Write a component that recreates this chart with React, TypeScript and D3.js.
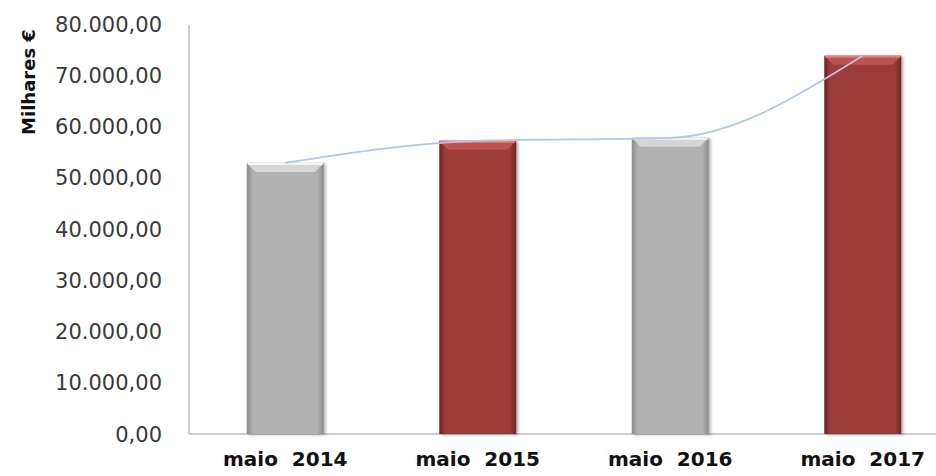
import * as d3 from "d3"

const categories = ["maio  2014", "maio  2015", "maio  2016", "maio  2017"]
const values = [52900, 57200, 57800, 73800]
const barColors = ["gray", "red", "gray", "red"]
const yTicks = [0, 10000, 20000, 30000, 40000, 50000, 60000, 70000, 80000]

const palette: Record<string, { base: string; edge: string; top: string; topEdge: string }> = {
  gray: { base: "#b1b1b1", edge: "#8a8a8a", top: "#d6d6d6", topEdge: "#f4f4f4" },
  red: { base: "#9c3a38", edge: "#6f2422", top: "#bb5350", topEdge: "#d98280" },
}

const fmt = (v: number) => {
  const s = d3.format(",.2f")(v)
  return s.replace(/,/g, "#").replace(".", ",").replace(/#/g, ".")
}

export default function App() {
  const width = 936
  const height = 476
  const x = d3.scaleBand<string>().domain(categories).range([189, 959]).paddingInner(0.6).paddingOuter(0.3)
  const y = d3.scaleLinear().domain([0, 80000]).range([434, 24])
  const bw = x.bandwidth()
  const cx = (i: number) => (x(categories[i]) as number) + bw / 2

  const trend = d3
    .line<number>()
    .x((_, i) => cx(i))
    .y((d) => y(d))
    .curve(d3.curveMonotoneX)

  return (
    <svg width={width} height={height} style={{ position: "absolute", left: 0, top: 0, background: "#fff" }}>
      <defs>
        {Object.entries(palette).map(([k, p]) => (
          <linearGradient id={"g-" + k} key={k} x1="0" x2="1" y1="0" y2="0">
            <stop offset="0" stopColor={p.edge} />
            <stop offset="0.08" stopColor={p.base} />
            <stop offset="0.92" stopColor={p.base} />
            <stop offset="1" stopColor={p.edge} />
          </linearGradient>
        ))}
        <filter id="shadow" x="-20%" y="-10%" width="140%" height="120%">
          <feDropShadow dx="2" dy="1" stdDeviation="1.5" floodColor="#000" floodOpacity="0.3" />
        </filter>
      </defs>

      {/* axes */}
      <line x1={189} x2={189} y1={y(80000) + 1} y2={y(0)} stroke="#bdbdbd" strokeWidth={1.5} />
      <line x1={189} x2={936} y1={y(0)} y2={y(0)} stroke="#bdbdbd" strokeWidth={1.5} />

      {yTicks.map((t) => (
        <text
          key={t}
          x={162}
          y={y(t)}
          dy="0.36em"
          textAnchor="end"
          fontFamily="DejaVu Sans"
          fontSize={21}
          fill="#3a3a3a"
        >
          {fmt(t)}
        </text>
      ))}

      <text
        transform={`translate(35,${82}) rotate(-90)`}
        textAnchor="middle"
        fontFamily="DejaVu Sans"
        fontWeight="bold"
        fontSize={18}
        fill="#111"
      >
        Milhares €
      </text>

      {/* bars */}
      {values.map((v, i) => {
        const p = palette[barColors[i]]
        const x0 = x(categories[i]) as number
        const top = y(v)
        const b = 9
        return (
          <g key={i} filter="url(#shadow)">
            <rect x={x0} y={top} width={bw} height={y(0) - top} fill={`url(#g-${barColors[i]})`} />
            <polygon
              points={`${x0},${top} ${x0 + bw},${top} ${x0 + bw - b},${top + b} ${x0 + b},${top + b}`}
              fill={p.top}
            />
            <line x1={x0 + 1} x2={x0 + bw - 1} y1={top + 1} y2={top + 1} stroke={p.topEdge} strokeWidth={2} />
          </g>
        )
      })}

      <path d={trend(values) as string} fill="none" stroke="#b3c6e6" strokeWidth={1.8} />

      {categories.map((c, i) => (
        <text
          key={c}
          x={cx(i)}
          y={466}
          textAnchor="middle"
          fontFamily="DejaVu Sans"
          fontWeight="bold"
          fontSize={20}
          fill="#111"
          style={{ whiteSpace: "pre" }}
        >
          {c}
        </text>
      ))}
    </svg>
  )
}
